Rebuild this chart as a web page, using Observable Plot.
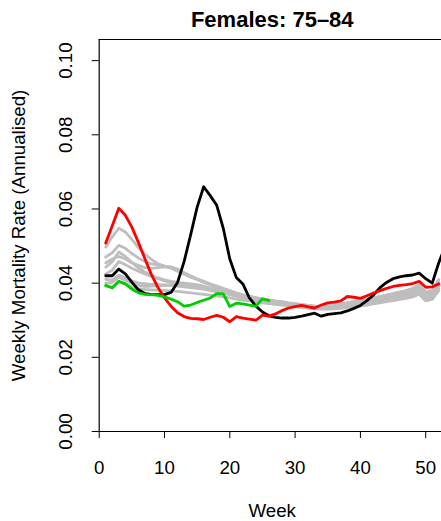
<!DOCTYPE html>
<html><head><meta charset="utf-8">
<script src="https://cdn.jsdelivr.net/npm/d3@7"></script>
<script src="https://cdn.jsdelivr.net/npm/@observablehq/plot@0.6"></script>
<style>html,body{margin:0;padding:0;background:#fff;} svg{display:block;}</style>
</head><body><div id="chart"></div>
<script>
const title = "Females: 75–84";
const xLabel = "Week";
const yLabel = "Weekly Mortality Rate (Annualised)";
const xTicks = [0, 10, 20, 30, 40, 50];
const xTickLabels = ["0", "10", "20", "30", "40", "50"];
const yTicks = [0, 0.02, 0.04, 0.06, 0.08, 0.10];
const yTickLabels = ["0.00", "0.02", "0.04", "0.06", "0.08", "0.10"];
const xMax = 53;
const yMax = 0.1057;

// previous years (grey)
const gray1 = [0.0497,0.0525,0.0548,0.0538,0.0518,0.0496,0.0478,0.0464,0.0452,0.0446,0.0440,0.0432,0.0424,0.0416,0.0410,0.0402,0.0396,0.0388,0.0382,0.0376,0.0371,0.0366,0.0362,0.0358,0.0355,0.0352,0.0349,0.0347,0.0344,0.0342,0.0340,0.0338,0.0337,0.0335,0.0336,0.0338,0.0340,0.0342,0.0345,0.0348,0.0351,0.0355,0.0358,0.0362,0.0366,0.0369,0.0373,0.0378,0.0386,0.0368,0.0372,0.0398];
const gray2 = [0.0470,0.0482,0.0502,0.0494,0.0480,0.0468,0.0458,0.0452,0.0449,0.0446,0.0444,0.0438,0.0428,0.0418,0.0410,0.0404,0.0396,0.0389,0.0382,0.0376,0.0370,0.0365,0.0360,0.0356,0.0353,0.0350,0.0348,0.0346,0.0343,0.0341,0.0339,0.0337,0.0336,0.0338,0.0340,0.0343,0.0345,0.0347,0.0350,0.0353,0.0356,0.0360,0.0364,0.0368,0.0372,0.0376,0.0380,0.0386,0.0396,0.0376,0.0380,0.0410];
const gray3 = [0.0443,0.0458,0.0484,0.0472,0.0456,0.0441,0.0430,0.0421,0.0414,0.0409,0.0405,0.0402,0.0400,0.0398,0.0396,0.0392,0.0387,0.0382,0.0378,0.0373,0.0369,0.0364,0.0360,0.0357,0.0354,0.0351,0.0348,0.0345,0.0342,0.0340,0.0338,0.0336,0.0334,0.0333,0.0334,0.0336,0.0339,0.0341,0.0344,0.0347,0.0350,0.0353,0.0357,0.0361,0.0365,0.0368,0.0372,0.0377,0.0384,0.0365,0.0368,0.0392];
const gray4 = [0.0425,0.0435,0.0458,0.0450,0.0440,0.0432,0.0425,0.0418,0.0412,0.0406,0.0402,0.0398,0.0395,0.0392,0.0390,0.0386,0.0382,0.0378,0.0374,0.0370,0.0366,0.0362,0.0358,0.0354,0.0350,0.0347,0.0344,0.0342,0.0340,0.0337,0.0335,0.0333,0.0332,0.0331,0.0332,0.0334,0.0336,0.0338,0.0340,0.0343,0.0346,0.0349,0.0352,0.0356,0.0360,0.0363,0.0366,0.0370,0.0378,0.0360,0.0362,0.0385];
const gray5 = [0.0410,0.0408,0.0422,0.0414,0.0406,0.0401,0.0399,0.0397,0.0396,0.0395,0.0394,0.0392,0.0390,0.0388,0.0386,0.0384,0.0380,0.0377,0.0373,0.0369,0.0365,0.0361,0.0358,0.0355,0.0352,0.0349,0.0346,0.0344,0.0341,0.0339,0.0337,0.0335,0.0333,0.0332,0.0333,0.0335,0.0337,0.0339,0.0342,0.0345,0.0348,0.0351,0.0354,0.0358,0.0362,0.0365,0.0369,0.0374,0.0381,0.0362,0.0366,0.0392];
const gray6 = [0.0392,0.0389,0.0404,0.0398,0.0390,0.0385,0.0383,0.0382,0.0381,0.0380,0.0379,0.0378,0.0376,0.0374,0.0372,0.0370,0.0368,0.0366,0.0363,0.0360,0.0357,0.0354,0.0352,0.0350,0.0347,0.0345,0.0343,0.0341,0.0339,0.0337,0.0335,0.0333,0.0331,0.0330,0.0330,0.0331,0.0332,0.0334,0.0336,0.0338,0.0341,0.0344,0.0347,0.0350,0.0353,0.0356,0.0359,0.0363,0.0370,0.0352,0.0356,0.0380];
const gray7 = [0.0400,0.0402,0.0416,0.0408,0.0400,0.0394,0.0391,0.0392,0.0393,0.0394,0.0395,0.0396,0.0395,0.0394,0.0392,0.0390,0.0386,0.0382,0.0379,0.0375,0.0371,0.0367,0.0364,0.0360,0.0357,0.0355,0.0352,0.0350,0.0347,0.0345,0.0342,0.0340,0.0338,0.0337,0.0338,0.0340,0.0342,0.0345,0.0348,0.0351,0.0354,0.0357,0.0361,0.0365,0.0369,0.0373,0.0377,0.0382,0.0390,0.0372,0.0376,0.0402];
const gray8 = [0.0455,0.0465,0.0472,0.0465,0.0455,0.0448,0.0442,0.0440,0.0442,0.0444,0.0442,0.0436,0.0428,0.0420,0.0412,0.0405,0.0398,0.0392,0.0386,0.0380,0.0374,0.0369,0.0365,0.0361,0.0357,0.0354,0.0351,0.0349,0.0346,0.0344,0.0342,0.0340,0.0338,0.0337,0.0338,0.0341,0.0344,0.0347,0.0350,0.0354,0.0357,0.0360,0.0364,0.0368,0.0372,0.0376,0.0380,0.0384,0.0392,0.0374,0.0378,0.0405];

// highlighted years
const blackYear = [0.0420,0.0420,0.0438,0.0425,0.0403,0.0382,0.0372,0.0370,0.0369,0.0369,0.0375,0.0402,0.0458,0.0530,0.0605,0.0660,0.0636,0.0610,0.0548,0.0465,0.0415,0.0398,0.0360,0.0338,0.0322,0.0312,0.0308,0.0306,0.0306,0.0308,0.0311,0.0315,0.0319,0.0311,0.0316,0.0318,0.0320,0.0325,0.0332,0.0340,0.0353,0.0368,0.0388,0.0402,0.0412,0.0417,0.0420,0.0422,0.0427,0.0412,0.0400,0.0455,0.0500];
const redYear = [0.0508,0.0555,0.0602,0.0583,0.0551,0.0510,0.0466,0.0423,0.0388,0.0360,0.0338,0.0320,0.0310,0.0305,0.0304,0.0302,0.0308,0.0313,0.0308,0.0296,0.0310,0.0306,0.0303,0.0300,0.0314,0.0311,0.0317,0.0326,0.0333,0.0337,0.0340,0.0336,0.0333,0.0341,0.0347,0.0349,0.0352,0.0364,0.0362,0.0359,0.0366,0.0373,0.0380,0.0386,0.0391,0.0394,0.0396,0.0399,0.0405,0.0389,0.0390,0.0398];
const greenYear = [0.0394,0.0387,0.0405,0.0398,0.0384,0.0374,0.0370,0.0369,0.0367,0.0363,0.0357,0.0350,0.0338,0.0341,0.0348,0.0354,0.0360,0.0372,0.0371,0.0337,0.0346,0.0344,0.0341,0.0338,0.0358,0.0353];

const grays = [gray1, gray2, gray3, gray4, gray5, gray6, gray7, gray8];
const rows = (vals, name) => vals.map((v, i) => ({week: i + 1, rate: v, series: name}));
const grayRows = grays.flatMap((g, k) => rows(g, "g" + k));

const font = "'Liberation Sans', Arial, Helvetica, sans-serif";
const lw = 2.8;

const chart = Plot.plot({
  width: 441,
  height: 521,
  marginLeft: 98.7,
  marginRight: -3.8,
  marginTop: 39,
  marginBottom: 90,
  x: {domain: [0, xMax]},
  y: {domain: [0, yMax]},
  style: {fontFamily: font, background: "#fff", color: "#000"},
  marks: [
    Plot.line(grayRows, {x: "week", y: "rate", z: "series", stroke: "#bebebe", strokeWidth: lw, clip: true}),
    Plot.line(rows(blackYear, "black"), {x: "week", y: "rate", stroke: "#000", strokeWidth: lw, clip: true}),
    Plot.line(rows(redYear, "red"), {x: "week", y: "rate", stroke: "#ff0000", strokeWidth: lw, clip: true}),
    Plot.line(rows(greenYear, "green"), {x: "week", y: "rate", stroke: "#00cd00", strokeWidth: lw, clip: true}),
    Plot.ruleX([0], {y1: 0, y2: yMax, stroke: "#000", strokeWidth: 1.2}),
    Plot.ruleY([0], {x1: 0, x2: xMax, stroke: "#000", strokeWidth: 1.2}),
    Plot.ruleY([yMax], {x1: 0, x2: xMax, stroke: "#000", strokeWidth: 1.2}),
    Plot.ruleX([xMax], {y1: 0, y2: yMax, stroke: "#000", strokeWidth: 1.2}),
    Plot.axisX({ticks: xTicks, tickSize: 7, tickFormat: () => "", label: null}),
    Plot.axisY({ticks: yTicks, tickSize: 7, tickFormat: () => "", label: null}),
    Plot.text(xTicks, {x: d => d, frameAnchor: "bottom", dy: 37, text: (d, i) => xTickLabels[i], fontSize: 18.7, lineAnchor: "middle", textAnchor: "middle"}),
    Plot.text(yTicks, {y: d => d, frameAnchor: "left", dx: -33.5, rotate: -90, text: (d, i) => yTickLabels[i], fontSize: 18.7, lineAnchor: "middle", textAnchor: "middle"}),
    Plot.text([yLabel], {frameAnchor: "left", dx: -79.7, rotate: -90, fontSize: 18.7, lineAnchor: "middle", textAnchor: "middle"}),
    Plot.text([xLabel], {frameAnchor: "bottom", dy: 80, fontSize: 18.7, lineAnchor: "middle", textAnchor: "middle"}),
    Plot.text([title], {frameAnchor: "top", dy: -20, fontSize: 22, fontWeight: "bold", lineAnchor: "middle", textAnchor: "middle"})
  ]
});
document.getElementById("chart").appendChild(chart);
</script>
</body></html>
